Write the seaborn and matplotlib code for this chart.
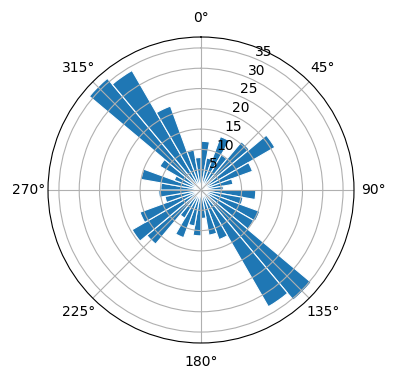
import numpy as np
import pandas as pd
import matplotlib
matplotlib.use("Agg")
import matplotlib.pyplot as plt
import seaborn as sns

# Direction bin centres (degrees) and bar lengths
directions = [5, 15, 25, 35, 45, 55, 65, 75, 85,
              95, 105, 115, 125, 135, 145, 155, 165, 175,
              185, 195, 205, 215, 225, 235, 245, 255, 265,
              275, 285, 295, 305, 315, 325, 335, 345, 355]
values = [12, 8, 14, 10, 15.5, 21, 13.5, 8, 5.5,
          13.5, 10.5, 15.4, 15, 35.4, 33.2, 13, 11.3, 7,
          11.3, 9, 12.5, 8, 17.4, 19.6, 16, 9, 10.4,
          9.9, 15, 7, 11.7, 35.9, 34, 22, 10, 8]

df = pd.DataFrame({"direction": directions, "value": values})
df["theta"] = np.deg2rad(df["direction"])

color = sns.color_palette("tab10")[0]

fig = plt.figure(figsize=(3.96, 3.80), dpi=100)
ax = fig.add_axes([48 / 396, 37 / 380, 306 / 396, 306 / 380], projection="polar")
ax.set_theta_zero_location("N")
ax.set_theta_direction(-1)

ax.bar(df["theta"], df["value"], width=np.deg2rad(10), bottom=0.0,
       color=color, edgecolor="white", linewidth=0.8)

fig.savefig("out.png", dpi=100)
